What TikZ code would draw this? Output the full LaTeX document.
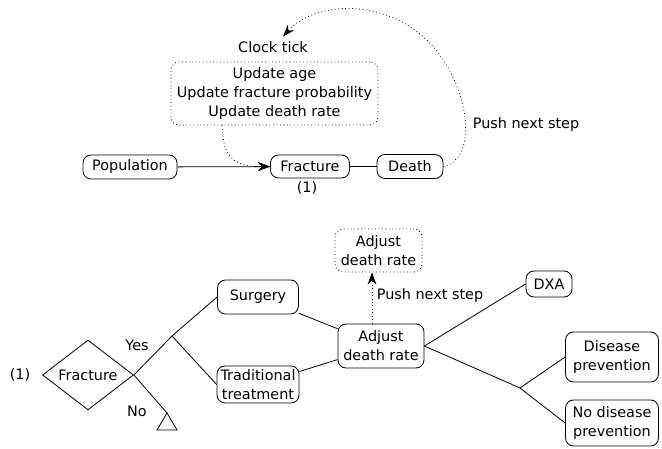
\documentclass[tikz,border=0pt]{standalone}
\usepackage{fontspec}
\setmainfont{DejaVu Sans}
\usetikzlibrary{shapes.geometric,calc,arrows.meta}
\begin{document}
\begin{tikzpicture}[x=0.75pt, y=-0.75pt, font=\fontsize{10.8}{14.2}\selectfont, >={Stealth[length=9pt,width=6.5pt]}, line width=0.6pt,
	box/.style={draw, rounded corners=6pt, align=center, inner sep=0pt},
	dotbox/.style={box, dotted},
	decision/.style={draw, diamond, inner sep=0pt}]
	\useasboundingbox (0,0) rectangle (662,449);
	% clock loop
	\node[box, minimum width=70.5pt, minimum height=18pt] (pop) at (130,167) {Population};
	\node[box, minimum width=59.25pt, minimum height=17.25pt] (frac) at (310,166.5) {Fracture};
	\node[box, minimum width=49.5pt, minimum height=18pt] (death) at (410,166.5) {Death};
	\node (one) at (307,188) {(1)};
	\node[dotbox, minimum width=155.25pt, minimum height=47.25pt] (upd) at (274.5,93.5) {Update age\\Update fracture probability\\Update death rate};
	\node (clock) at (273,47) {Clock tick};
	\node[right] (push) at (468,125) {Push next step};
	\draw[->] (pop) -- (frac);
	\draw (frac) -- (death);
	\draw[dotted, ->] ($(upd.south)+(-52,0)$) .. controls (222,163) and (240,166.5) .. (frac.west);
	\draw[dotted, ->] (death.east) .. controls (475,160) and (472,100) .. (440,55) .. controls (395,-5) and (315,0) .. ($(clock.north)+(10,0)$);
	% decision tree
	\node[decision, minimum width=68.25pt, minimum height=39.75pt] (dec) at (88,375) {Fracture};
	\node (one2) at (20,375) {(1)};
	\node (lyes) at (137,345) {Yes};
	\node (lno) at (137,411) {No};
	\coordinate (yes) at (172,336);
	\coordinate (no) at (167,413);
	\node[box, minimum width=60.75pt, minimum height=25.5pt] (surg) at (258,297) {Surgery};
	\node[box, minimum width=61.5pt, minimum height=27.75pt] (trad) at (258,384.5) {Traditional\\treatment};
	\node[box, minimum width=64.5pt, minimum height=33pt] (adj) at (381,346) {Adjust\\death rate};
	\node[dotbox, minimum width=65.25pt, minimum height=32.25pt] (adj2) at (378.5,250.5) {Adjust\\death rate};
	\node[right] (push2) at (372,296) {Push next step};
	\node[box, minimum width=34.5pt, minimum height=19.5pt] (dxa) at (549,284) {DXA};
	\coordinate (prev) at (520,388);
	\node[box, minimum width=69.75pt, minimum height=37.5pt] (dis) at (612,357) {Disease\\prevention};
	\node[box, minimum width=69.75pt, minimum height=34.5pt] (nodis) at (612,423) {No disease\\prevention};
	\draw (dec.east) -- (yes);
	\draw (dec.east) -- (no);
	\draw (no) -- ++(-10,17) -- ++(20,0) -- cycle;
	\draw (yes) -- (surg.west);
	\draw (yes) -- (trad.west);
	\draw (surg) -- (adj);
	\draw (trad) -- (adj);
	\draw[dotted, ->] ($(adj.north)+(-9,0)$) -- ($(adj2.south)+(-6.5,0)$);
	\draw (adj.east) -- (dxa.west);
	\draw (adj.east) -- (prev);
	\draw (prev) -- (dis.west);
	\draw (prev) -- (nodis.west);
\end{tikzpicture}
\end{document}
